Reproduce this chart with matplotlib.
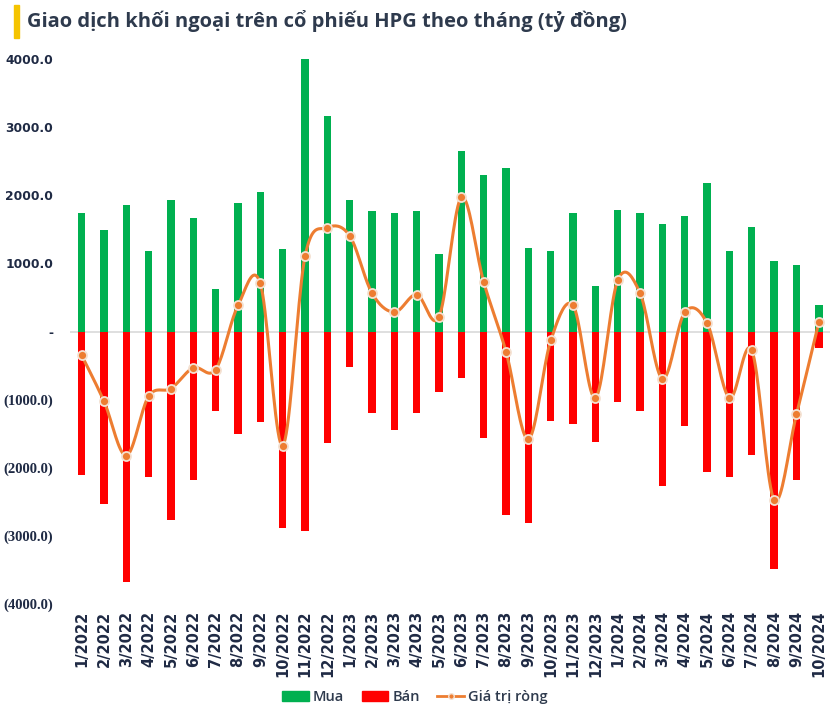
import numpy as np
import matplotlib.pyplot as plt
from matplotlib.patches import Patch, Rectangle
from matplotlib.lines import Line2D

# monthly foreign trading on HPG (ty dong)
months = ['1/2022', '2/2022', '3/2022', '4/2022', '5/2022', '6/2022', '7/2022', '8/2022',
          '9/2022', '10/2022', '11/2022', '12/2022', '1/2023', '2/2023', '3/2023', '4/2023',
          '5/2023', '6/2023', '7/2023', '8/2023', '9/2023', '10/2023', '11/2023', '12/2023',
          '1/2024', '2/2024', '3/2024', '4/2024', '5/2024', '6/2024', '7/2024', '8/2024',
          '9/2024', '10/2024']
buy = [1740, 1483, 1860, 1179, 1928, 1669, 621, 1884, 2046, 1204, 4010, 3167, 1928, 1762,
       1743, 1762, 1131, 2653, 2301, 2393, 1224, 1179, 1738, 666, 1787, 1738, 1576, 1693,
       2183, 1179, 1527, 1038, 969, 382]
sell = [-2110, -2526, -3676, -2129, -2761, -2178, -1170, -1498, -1332, -2878, -2922, -1640,
        -518, -1194, -1449, -1194, -891, -680, -1567, -2687, -2805, -1307, -1356, -1615,
        -1028, -1170, -2271, -1380, -2060, -2134, -1806, -3485, -2178, -235]
net = [-348, -1023, -1821, -950, -837, -533, -558, 382, 705, -1674, 1101, 1523, 1405, 562,
       284, 543, 216, 1968, 724, -299, -1581, -132, 382, -974, 754, 562, -695, 284, 122,
       -974, -275, -2472, -1214, 135]
yticks = [4000, 3000, 2000, 1000, 0, -1000, -2000, -3000, -4000]
ytick_labels = ['4000.0', '3000.0', '2000.0', '1000.0', '-', '(1000.0)', '(2000.0)',
                '(3000.0)', '(4000.0)']

GREEN = '#00B050'
RED = '#FF0000'
ORANGE = '#ED7D31'
NAVY = '#1F2A44'


def smooth(x, y, n=20):
  # excel-like smoothed line (catmull-rom bezier)
  x = np.asarray(x, float)
  y = np.asarray(y, float)
  px = np.concatenate([[x[0]], x, [x[-1]]])
  py = np.concatenate([[y[0]], y, [y[-1]]])
  xs, ys = [], []
  t = np.linspace(0, 1, n)
  for i in range(1, len(px) - 2):
    p0 = np.array([px[i], py[i]])
    p3 = np.array([px[i + 1], py[i + 1]])
    p1 = p0 + (np.array([px[i + 1], py[i + 1]]) - np.array([px[i - 1], py[i - 1]])) / 6
    p2 = p3 - (np.array([px[i + 2], py[i + 2]]) - np.array([px[i], py[i]])) / 6
    b = ((1 - t)[:, None] ** 3 * p0 + 3 * ((1 - t) ** 2 * t)[:, None] * p1
         + 3 * ((1 - t) * t ** 2)[:, None] * p2 + (t ** 3)[:, None] * p3)
    xs.extend(b[:, 0])
    ys.extend(b[:, 1])
  return xs, ys


fig = plt.figure(figsize=(8.32, 7.12), dpi=100)
ax = fig.add_axes([70 / 832, 108 / 712, 760 / 832, 545 / 712])

x = np.arange(len(months))
ax.bar(x, buy, width=0.33, color=GREEN, zorder=2)
ax.bar(x, sell, width=0.33, color=RED, zorder=2)
ax.axhline(0, color='#D9D9D9', lw=1.2, zorder=1)

sx, sy = smooth(x, net)
ax.plot(sx, sy, color=ORANGE, lw=2.2, zorder=3)
ax.plot(x, net, 'o', color=ORANGE, ms=6.5, mec='#F4E1D2', mew=1.3, zorder=4)

ax.set_xlim(-0.52, 33.5)
ax.set_ylim(-4000, 4000)
ax.set_yticks(yticks)
ax.set_yticklabels(ytick_labels)
for lab, v in zip(ax.get_yticklabels(), yticks):
  if v < 0:
    lab.set_fontfamily('Liberation Serif')
    lab.set_fontsize(10.5)
  else:
    lab.set_fontfamily('DejaVu Sans')
    lab.set_fontsize(8.8)
  lab.set_fontweight('bold')
  lab.set_color(NAVY)
ax.set_xticks(x)
ax.set_xticklabels(months, rotation=90, fontsize=10.5, fontweight='bold', color=NAVY,
                   fontfamily='DejaVu Sans')
ax.tick_params(length=0)
ax.tick_params(axis='x', pad=5)
ax.tick_params(axis='y', pad=12)
for s in ax.spines.values():
  s.set_visible(False)

# title with yellow marker
fig.patches.append(Rectangle((14 / 832, 1 - 38 / 712), 5 / 832, 33 / 712,
                             transform=fig.transFigure, color='#F5C400'))
fig.text(27 / 832, 1 - 21 / 712, 'Giao dịch khối ngoại trên cổ phiếu HPG theo tháng (tỷ đồng)',
         fontsize=14.5, color='#2E3A4D', fontfamily='Open Sans', fontweight='bold',
         va='center', ha='left')

handles = [Patch(color=GREEN, label='Mua'), Patch(color=RED, label='Bán'),
           Line2D([0], [0], color=ORANGE, lw=2, marker='o', ms=4, mec='#F4E1D2',
                  label='Giá trị ròng')]
fig.legend(handles=handles, loc='center', bbox_to_anchor=(415 / 832, 1 - 697 / 712),
           ncol=3, frameon=False, handlelength=1.8, handletextpad=0.3, columnspacing=1.2,
           prop={'family': 'Open Sans', 'weight': 'semibold', 'size': 10.5},
           labelcolor='#2E3A4D')

fig.savefig('out.png', dpi=100)
